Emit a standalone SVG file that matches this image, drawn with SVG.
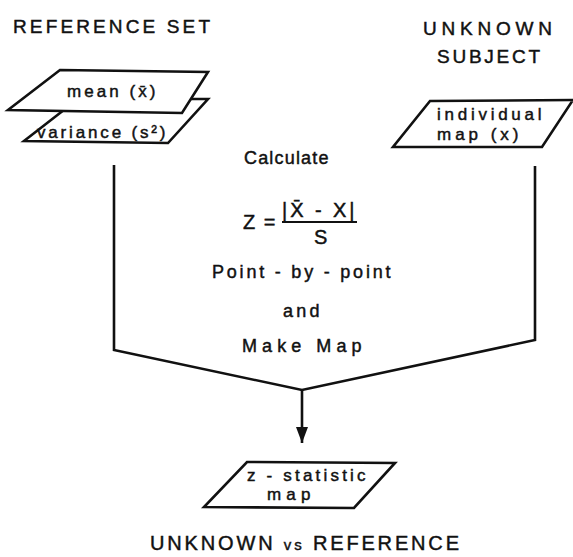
<svg xmlns="http://www.w3.org/2000/svg" width="573" height="557" viewBox="0 0 573 557">
<style>
text{font-family:"Liberation Sans","DejaVu Sans",sans-serif;fill:#111;stroke:#111;stroke-width:0.45}
.hd{font-size:19px;letter-spacing:3px}
.nd{font-size:17px;letter-spacing:1.5px}
.lb{font-size:18px;letter-spacing:1.5px}
.shape{fill:#fff;stroke:#111;stroke-width:2.6;stroke-linejoin:miter}
.conn{fill:none;stroke:#111;stroke-width:2.6}
</style>
<defs>
<marker id="ah" markerWidth="18" markerHeight="12" refX="16" refY="6" orient="auto" markerUnits="userSpaceOnUse" viewBox="0 0 18 12">
<polygon points="0,0 16,6 0,12" fill="#111"/>
</marker>
</defs>
<rect width="573" height="557" fill="#fff"/>
<text class="hd" x="13" y="33" textLength="200" lengthAdjust="spacing">REFERENCE SET</text>
<text class="hd" x="423" y="35" textLength="132" lengthAdjust="spacing">UNKNOWN</text>
<text class="hd" x="437" y="63" textLength="106" lengthAdjust="spacing">SUBJECT</text>
<g id="connectors">
<polyline class="conn" points="114,165 114,350 302,390 535,340 535,166"/>
<line class="conn" x1="302" y1="390" x2="302" y2="443" marker-end="url(#ah)"/>
</g>
<g id="variance">
<polygon class="shape" points="78,99 208,99 168,143 24,141"/>
<text class="nd" x="37" y="138" textLength="130" lengthAdjust="spacing">variance (s²)</text>
</g>
<g id="mean">
<polygon class="shape" points="60,70 208,72 182,113 8,110"/>
<text class="nd" x="67" y="97" textLength="90" lengthAdjust="spacing">mean (x̄)</text>
</g>
<g id="individual">
<polygon class="shape" points="430,101 573,100 542,147 393,147"/>
<text class="nd" x="437" y="120" textLength="106" lengthAdjust="spacing">individual</text>
<text class="nd" x="437" y="140" textLength="83" lengthAdjust="spacing">map (x)</text>
</g>
<g id="calculate">
<text class="lb" x="244" y="164" textLength="86" lengthAdjust="spacing">Calculate</text>
<text class="lb" x="243" y="229" style="font-size:20px">Z =</text>
<text class="lb" x="282" y="217" textLength="74" lengthAdjust="spacing" style="font-size:20px">|X̄ - X|</text>
<line x1="282" y1="222" x2="357" y2="222" stroke="#111" stroke-width="2.2"/>
<text class="lb" x="314" y="244" style="font-size:20px">S</text>
<text class="lb" x="212" y="278" textLength="180" lengthAdjust="spacing">Point - by - point</text>
<text class="lb" x="283" y="317" textLength="38" lengthAdjust="spacing">and</text>
<text class="lb" x="242" y="352" textLength="121" lengthAdjust="spacing">Make Map</text>
</g>
<g id="zstat">
<polygon class="shape" points="247,462 395,463 354,508 204,507"/>
<text class="nd" x="247" y="481" textLength="120" lengthAdjust="spacing">z - statistic</text>
<text class="nd" x="267" y="500" textLength="45" lengthAdjust="spacing">map</text>
</g>
<text class="hd" x="150" y="550" textLength="312" lengthAdjust="spacing" style="font-size:20px">UNKNOWN <tspan style="font-size:15px">vs</tspan> REFERENCE</text>
</svg>
